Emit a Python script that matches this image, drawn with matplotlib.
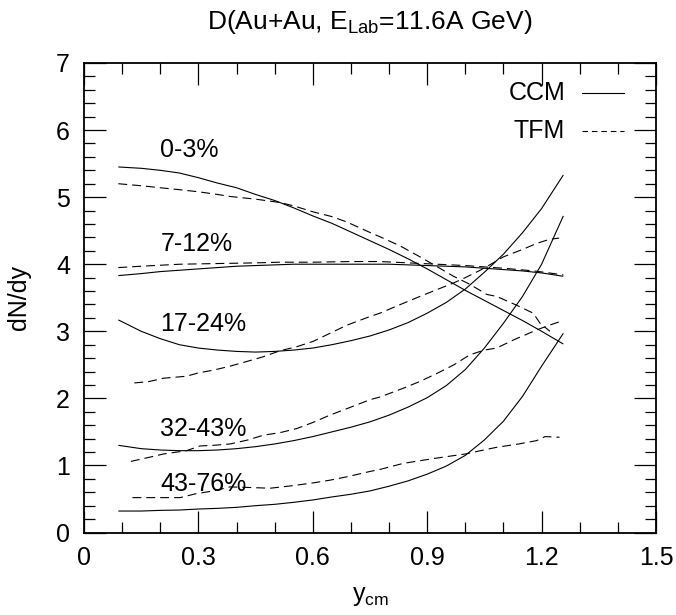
import matplotlib
matplotlib.use("Agg")
import matplotlib.pyplot as plt
from matplotlib.ticker import MultipleLocator

plt.rcParams['font.family'] = ['Liberation Sans', 'DejaVu Sans']
plt.rcParams['mathtext.fontset'] = 'custom'
plt.rcParams['mathtext.rm'] = 'Liberation Sans'
plt.rcParams['mathtext.it'] = 'Liberation Sans'
plt.rcParams['mathtext.default'] = 'regular'

# ---------------- data ----------------
centralities = ["0-3%", "7-12%", "17-24%", "32-43%", "43-76%"]
label_x = [0.20, 0.20, 0.20, 0.20, 0.20]
label_y = [5.70, 4.30, 3.11, 1.55, 0.72]

ccm_x = [0.09, 0.15, 0.20, 0.25, 0.30, 0.35, 0.40, 0.45, 0.50, 0.55, 0.60, 0.65,
         0.70, 0.75, 0.80, 0.85, 0.90, 0.95, 1.00, 1.05, 1.10, 1.15, 1.20, 1.257]
ccm_0_3 = [5.45, 5.43, 5.40, 5.36, 5.29, 5.21, 5.14, 5.04, 4.95, 4.84, 4.72, 4.61,
           4.48, 4.35, 4.22, 4.08, 3.93, 3.77, 3.61, 3.46, 3.31, 3.16, 3.00, 2.81]
ccm_7_12 = [3.83, 3.86, 3.89, 3.91, 3.93, 3.95, 3.97, 3.98, 3.99, 4.00, 4.00, 4.00,
            4.00, 4.00, 4.00, 3.99, 3.98, 3.97, 3.96, 3.94, 3.92, 3.90, 3.87, 3.82]
ccm_17_24 = [3.17, 3.00, 2.89, 2.80, 2.75, 2.72, 2.70, 2.69, 2.70, 2.72, 2.75, 2.80,
             2.86, 2.93, 3.02, 3.13, 3.27, 3.43, 3.63, 3.88, 4.15, 4.47, 4.83, 5.33]
ccm_32_43 = [1.30, 1.25, 1.23, 1.22, 1.22, 1.23, 1.25, 1.28, 1.32, 1.37, 1.43, 1.50,
             1.57, 1.65, 1.75, 1.87, 2.01, 2.19, 2.43, 2.75, 3.12, 3.52, 4.00, 4.72]
ccm_43_76 = [0.32, 0.32, 0.33, 0.335, 0.35, 0.36, 0.375, 0.40, 0.42, 0.45, 0.485, 0.53,
             0.57, 0.62, 0.69, 0.77, 0.87, 0.99, 1.15, 1.38, 1.66, 2.03, 2.48, 2.97]

tfm_0_3_x = [0.09, 0.15, 0.20, 0.252, 0.30, 0.35, 0.383, 0.45, 0.514, 0.55, 0.601, 0.65,
             0.689, 0.759, 0.776, 0.83, 0.881, 0.93, 0.969, 1.012, 1.056, 1.082, 1.134,
             1.178, 1.196, 1.222]
tfm_0_3 = [5.20, 5.17, 5.14, 5.11, 5.08, 5.04, 5.01, 4.97, 4.92, 4.87, 4.78, 4.71,
           4.63, 4.45, 4.41, 4.27, 4.11, 3.95, 3.82, 3.70, 3.55, 3.52, 3.39,
           3.27, 3.12, 3.00]
tfm_7_12_x = [0.09, 0.15, 0.252, 0.35, 0.45, 0.514, 0.60, 0.70, 0.776, 0.85, 0.925,
              1.00, 1.10, 1.18, 1.22, 1.257]
tfm_7_12 = [3.95, 3.97, 4.00, 4.01, 4.02, 4.03, 4.03, 4.04, 4.04, 4.02, 4.00,
            3.98, 3.94, 3.90, 3.87, 3.84]
tfm_17_24_x = [0.132, 0.17, 0.208, 0.269, 0.30, 0.339, 0.383, 0.427, 0.47, 0.514, 0.558,
               0.601, 0.645, 0.689, 0.75, 0.776, 0.83, 0.881, 0.925, 0.969, 1.00, 1.039,
               1.07, 1.10, 1.15, 1.187, 1.22, 1.246]
tfm_17_24 = [2.23, 2.25, 2.30, 2.33, 2.38, 2.42, 2.48, 2.55, 2.62, 2.71, 2.77,
             2.85, 2.97, 3.09, 3.22, 3.27, 3.40, 3.52, 3.62, 3.72, 3.80, 3.91,
             4.01, 4.11, 4.22, 4.31, 4.37, 4.39]
tfm_32_43_x = [0.123, 0.17, 0.208, 0.269, 0.304, 0.34, 0.383, 0.43, 0.47, 0.515, 0.558,
               0.60, 0.645, 0.70, 0.75, 0.776, 0.837, 0.88, 0.925, 0.97, 1.012, 1.05,
               1.082, 1.126, 1.187, 1.22, 1.246]
tfm_32_43 = [1.06, 1.12, 1.17, 1.22, 1.29, 1.30, 1.32, 1.38, 1.45, 1.49, 1.55,
             1.64, 1.75, 1.87, 1.98, 2.02, 2.15, 2.25, 2.37, 2.50, 2.65, 2.72,
             2.75, 2.87, 3.02, 3.09, 3.14]
tfm_43_76_x = [0.127, 0.20, 0.252, 0.295, 0.34, 0.383, 0.44, 0.488, 0.55, 0.601, 0.645,
               0.689, 0.75, 0.776, 0.837, 0.925, 0.999, 1.04, 1.082, 1.14, 1.187, 1.209,
               1.247]
tfm_43_76 = [0.52, 0.52, 0.52, 0.58, 0.62, 0.68, 0.67, 0.66, 0.70, 0.74, 0.78,
             0.83, 0.91, 0.94, 1.03, 1.11, 1.17, 1.22, 1.27, 1.32, 1.37, 1.43,
             1.42]

ccm_series = [ccm_0_3, ccm_7_12, ccm_17_24, ccm_32_43, ccm_43_76]
tfm_series = [(tfm_0_3_x, tfm_0_3), (tfm_7_12_x, tfm_7_12), (tfm_17_24_x, tfm_17_24),
              (tfm_32_43_x, tfm_32_43), (tfm_43_76_x, tfm_43_76)]
model_names = ["CCM", "TFM"]

x_ticks = [0, 0.3, 0.6, 0.9, 1.2, 1.5]
x_tick_labels = ["0", "0.3", "0.6", "0.9", "1.2", "1.5"]
y_ticks = [0, 1, 2, 3, 4, 5, 6, 7]

# ---------------- figure ----------------
W, H = 676, 615
fig = plt.figure(figsize=(W / 100, H / 100), dpi=100)
ax = fig.add_axes([84 / W, 1 - 532.5 / H, (656 - 84) / W, (532.5 - 63) / H])

LW = 0.8
DASH = (8, 4.5)
for ys in ccm_series:
    ax.plot(ccm_x, ys, color='black', lw=LW, solid_capstyle='butt')
for xs, ys in tfm_series:
    ax.plot(xs, ys, color='black', lw=LW, dashes=DASH)

FS = 18
for name, lx, ly in zip(centralities, label_x, label_y):
    ax.text(lx, ly, name, fontsize=FS, ha='left', va='center')

# legend (manual, right-aligned text with sample line after)
leg_y = [0.937, 0.855]
for name, ly, style in zip(model_names, leg_y, ['solid', 'dashed']):
    ax.text(0.841, ly, name, transform=ax.transAxes, fontsize=FS, ha='right', va='center')
    if style == 'solid':
        ax.plot([0.871, 0.944], [ly, ly], transform=ax.transAxes, color='black', lw=LW)
    else:
        ax.plot([0.871, 0.944], [ly, ly], transform=ax.transAxes, color='black', lw=LW,
                dashes=(5, 3.5))

ax.set_xlim(0, 1.5)
ax.set_ylim(0, 7)
ax.set_xticks(x_ticks)
ax.set_xticklabels(x_tick_labels)
ax.set_yticks(y_ticks)
ax.xaxis.set_minor_locator(MultipleLocator(0.1))
ax.yaxis.set_minor_locator(MultipleLocator(0.2))
ax.tick_params(which='both', direction='in', top=True, right=True, width=0.9,
               labelsize=FS, pad=10)
ax.tick_params(which='major', length=15.5)
ax.tick_params(which='minor', length=8)
for s in ax.spines.values():
    s.set_linewidth(1.3)

ax.set_xlabel(r'y$_{\mathrm{cm}}$', fontsize=FS, labelpad=10)
ax.set_ylabel('dN/dy', fontsize=FS, labelpad=18)
fig.text(370 / W, 1 - 22 / H, r'D(Au+Au, E$_{\mathrm{Lab}}$=11.6A GeV)', fontsize=19,
         ha='center', va='center')

fig.savefig('out.png', dpi=100)
